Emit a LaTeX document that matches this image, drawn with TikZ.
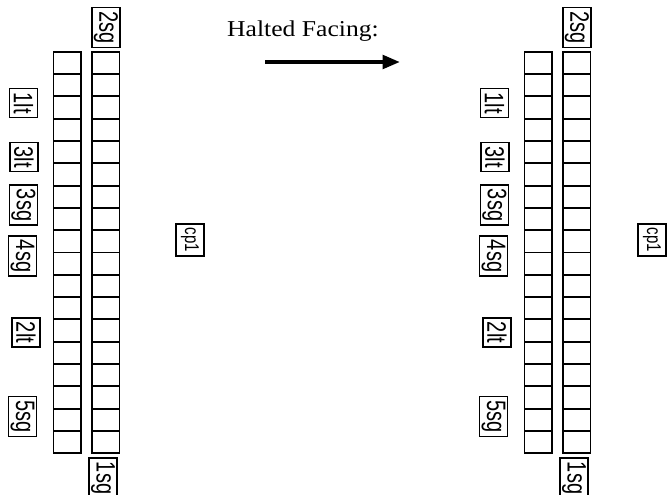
\documentclass[tikz,border=0pt]{standalone}
\usepackage{fontspec}
\setmainfont{Liberation Serif}
\newfontfamily\unitfont[FakeStretch=0.75]{Liberation Sans}
\usetikzlibrary{arrows.meta}

\tikzset{
  unitbox/.style={draw, line width=1.2pt, rotate=-90, font=\unitfont\fontsize{20}{20}\selectfont,
    inner xsep=3pt, inner ysep=1pt, minimum height=21pt},
  cpbox/.style={unitbox, font=\unitfont\fontsize{15}{15}\selectfont},
  rank/.style={line width=1.4pt},
}

\begin{document}
\begin{tikzpicture}[x=0.75pt, y=-0.75pt]
    % Page
    \clip (0,0) rectangle (668,494);

    % Title and arrow
    \node[font=\fontsize{17}{17}\selectfont, xscale=1.13, anchor=base] (title) at (303,36) {Halted Facing:};
    \coordinate (arrowstart) at (265,62);
    \coordinate (arrowend) at (400,62);
    \draw[line width=3pt, -{Triangle[length=13pt, width=10pt]}] (arrowstart) -- (arrowend);

    \foreach \off/\g in {0/a, 471/b} {
        % Two files of cells
        \foreach \xl/\xr in {53.5/81, 92/119.5} {
            \draw[rank] (\xl+\off,51.7) rectangle (\xr+\off,453.3);
            \foreach \i in {1,...,17}
                \draw[rank] (\xl+\off,51.7+22.31*\i) -- (\xr+\off,51.7+22.31*\i);
        }

        % Unit labels
        \node[unitbox] (2sg-\g) at (106+\off,27.5) {2sg};
        \node[unitbox] (1sg-\g) at (103+\off,478) {1sg};
        \node[unitbox] (1lt-\g) at (23.5+\off,103) {1lt};
        \node[unitbox] (3lt-\g) at (24+\off,157) {3lt};
        \node[unitbox] (3sg-\g) at (23.5+\off,205) {3sg};
        \node[unitbox] (4sg-\g) at (22.5+\off,256) {4sg};
        \node[unitbox] (2lt-\g) at (26+\off,332.5) {2lt};
        \node[unitbox] (5sg-\g) at (22.5+\off,416.5) {5sg};
    }

    % Command posts
    \node[cpbox] (cp1-a) at (190,240) {cp1};
    \node[cpbox] (cp1-b) at (652,240) {cp1};
\end{tikzpicture}
\end{document}
